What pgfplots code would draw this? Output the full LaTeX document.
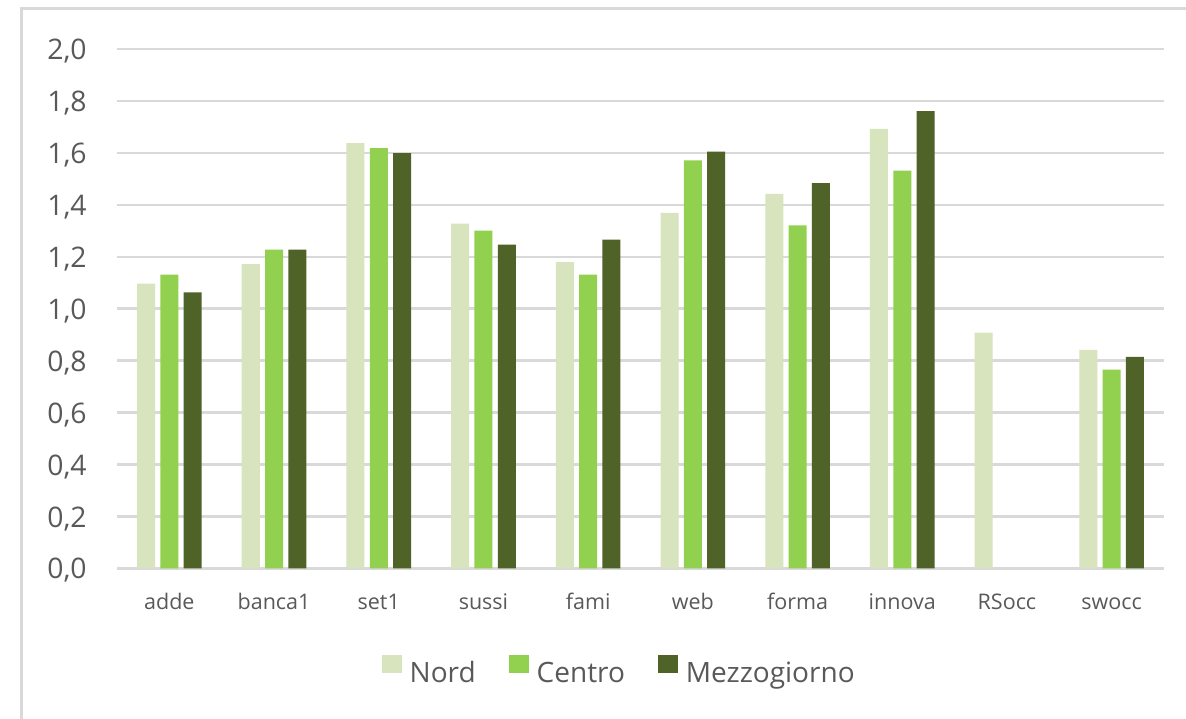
\documentclass[border=0pt]{standalone}
\usepackage{fontspec}
\setmainfont{Open Sans}
\usepackage{pgfplots}
\pgfplotsset{compat=1.18}
\newlength\px \setlength\px{0.6pt}
\definecolor{nord}{HTML}{D7E4BD}
\definecolor{centro}{HTML}{92D050}
\definecolor{mezzo}{HTML}{4F6228}
\definecolor{txt}{HTML}{595959}
\definecolor{gridc}{HTML}{D9D9D9}
\pgfplotstableread{
x y
0 1.097
1 1.172
2 1.638
3 1.328
4 1.179
5 1.369
6 1.442
7 1.692
8 0.908
9 0.842
}\nord
\pgfplotstableread{
x y
0 1.131
1 1.228
2 1.618
3 1.301
4 1.131
5 1.571
6 1.321
7 1.532
9 0.766
}\centro
\pgfplotstableread{
x y
0 1.063
1 1.228
2 1.599
3 1.247
4 1.266
5 1.605
6 1.484
7 1.761
9 0.815
}\mezzo
\begin{document}
\begin{tikzpicture}
\useasboundingbox (0,0) rectangle (1186\px,719\px);
\fill[white] (0,0) rectangle (1186\px,719\px);
\draw[gridc, line width=3\px] (21\px,0) -- (21\px,710.5\px) -- (1186\px,710.5\px);
\begin{axis}[
  at={(117\px,150.5\px)}, anchor=south west,
  scale only axis, width=1047\px, height=519.5\px,
  xmin=-0.5, xmax=9.5, ymin=0, ymax=2,
  ybar=5.3\px, bar width=18\px,
  axis line style={draw=none},
  major tick length=0pt,
  ytick={0,0.2,0.4,0.6,0.8,1,1.2,1.4,1.6,1.8,2},
  xtick={0,1,2,3,4,5,6,7,8,9},
  xticklabels={adde,banca1,set1,sussi,fami,web,forma,innova,RSocc,swocc},
  ymajorgrids,
  major grid style={draw=gridc, line width=2.5\px},
  /pgf/number format/assume math mode=true,
  yticklabel style={/pgf/number format/fixed, /pgf/number format/fixed zerofill,
    /pgf/number format/precision=1, /pgf/number format/use comma,
    anchor=base east, inner sep=0pt, xshift=-30\px, yshift=-10.5\px,
    text=txt, font=\fontsize{17}{20}\selectfont},
  xticklabel style={anchor=base, inner sep=0pt, yshift=-41.5\px,
    text=txt, font=\fontsize{12.9}{15}\selectfont},
  legend columns=3,
  legend style={at={(0.2528,-0.1954)}, anchor=west, draw=none, fill=none,
    inner sep=0pt, outer sep=0pt,
    font=\fontsize{16.8}{20}\selectfont, text=txt,
    nodes={inner sep=0pt},
    /tikz/every odd column/.append style={column sep=8\px},
    /tikz/every even column/.append style={column sep=33\px}},
  legend image code/.code={\fill[#1] (0pt,0pt) rectangle (20\px,18.5\px);},
]
\addplot[fill=nord, draw=none] table[x=x,y=y] {\nord};
\addplot[fill=centro, draw=none] table[x=x,y=y] {\centro};
\addplot[fill=mezzo, draw=none] table[x=x,y=y] {\mezzo};
\legend{Nord,Centro,Mezzogiorno}
\end{axis}
\end{tikzpicture}
\end{document}
